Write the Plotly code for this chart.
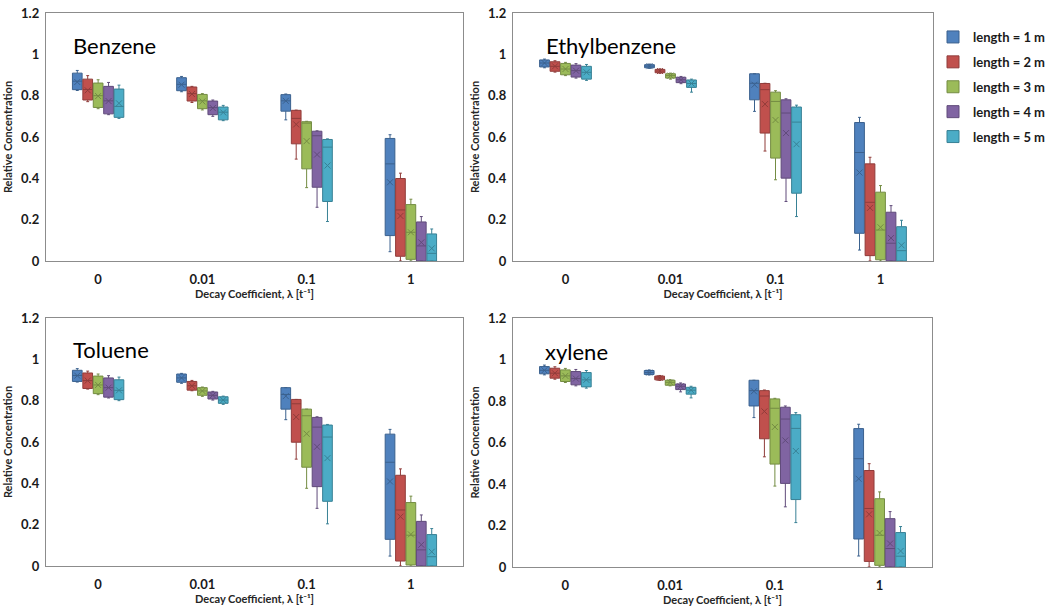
import plotly.graph_objects as go

# ---------------- data ----------------
categories = ["0", "0.01", "0.1", "1"]
series_names = ["length = 1 m", "length = 2 m", "length = 3 m", "length = 4 m", "length = 5 m"]
fill_colors = ["#4F81BD", "#C0504D", "#9BBB59", "#8064A2", "#4BACC6"]
line_colors = ["#3B618E", "#903C3A", "#748C43", "#604B7A", "#388195"]
compounds = ["Benzene", "Ethylbenzene", "Toluene", "xylene"]

# each list: one row per series (1..5 m), values per category (0, 0.01, 0.1, 1)
benzene_lower = [[0.825, 0.819, 0.683, 0.045], [0.771, 0.767, 0.493, 0.0], [0.737, 0.731, 0.355, 0.0],
                 [0.708, 0.700, 0.260, 0.0], [0.690, 0.679, 0.191, 0.0]]
benzene_q1 = [[0.829, 0.824, 0.725, 0.123], [0.779, 0.774, 0.567, 0.023], [0.743, 0.737, 0.446, 0.008],
              [0.712, 0.708, 0.357, 0.0], [0.695, 0.683, 0.288, 0.0]]
benzene_median = [[0.870, 0.855, 0.775, 0.470], [0.830, 0.810, 0.690, 0.247], [0.800, 0.775, 0.667, 0.139],
                  [0.775, 0.742, 0.606, 0.073], [0.748, 0.720, 0.551, 0.037]]
benzene_q3 = [[0.909, 0.887, 0.805, 0.593], [0.880, 0.842, 0.729, 0.399], [0.861, 0.806, 0.674, 0.273],
              [0.845, 0.774, 0.628, 0.189], [0.832, 0.745, 0.588, 0.131]]
benzene_upper = [[0.922, 0.893, 0.808, 0.611], [0.897, 0.845, 0.730, 0.425], [0.877, 0.810, 0.676, 0.299],
                 [0.864, 0.779, 0.630, 0.215], [0.851, 0.753, 0.591, 0.155]]
benzene_mean = [[0.866, 0.853, 0.775, 0.381], [0.826, 0.808, 0.661, 0.218], [0.798, 0.772, 0.580, 0.139],
                [0.774, 0.740, 0.515, 0.090], [0.763, 0.719, 0.462, 0.061]]

ethylbenzene_lower = [[0.935, 0.932, 0.724, 0.053], [0.914, 0.908, 0.532, 0.0], [0.897, 0.880, 0.393, 0.0],
                      [0.885, 0.858, 0.288, 0.0], [0.874, 0.817, 0.215, 0.0]]
ethylbenzene_q1 = [[0.939, 0.935, 0.780, 0.134], [0.918, 0.911, 0.619, 0.026], [0.901, 0.885, 0.498, 0.006],
                   [0.890, 0.863, 0.401, 0.0], [0.880, 0.840, 0.328, 0.0]]
ethylbenzene_median = [[0.958, 0.943, 0.860, 0.525], [0.942, 0.919, 0.829, 0.284], [0.929, 0.897, 0.772, 0.150],
                       [0.921, 0.877, 0.716, 0.086], [0.913, 0.859, 0.672, 0.050]]
ethylbenzene_q3 = [[0.973, 0.950, 0.906, 0.670], [0.964, 0.927, 0.859, 0.470], [0.956, 0.906, 0.817, 0.333],
                   [0.948, 0.889, 0.780, 0.236], [0.942, 0.876, 0.745, 0.166]]
ethylbenzene_upper = [[0.977, 0.953, 0.906, 0.695], [0.969, 0.930, 0.860, 0.502], [0.961, 0.909, 0.824, 0.365],
                      [0.955, 0.893, 0.785, 0.268], [0.951, 0.880, 0.754, 0.197]]
ethylbenzene_mean = [[0.958, 0.943, 0.853, 0.428], [0.942, 0.919, 0.759, 0.257], [0.929, 0.897, 0.682, 0.163],
                     [0.921, 0.877, 0.619, 0.111], [0.913, 0.859, 0.565, 0.076]]

toluene_lower = [[0.890, 0.884, 0.708, 0.048], [0.856, 0.848, 0.517, 0.0], [0.829, 0.821, 0.376, 0.0],
                 [0.813, 0.803, 0.279, 0.0], [0.800, 0.782, 0.204, 0.0]]
toluene_q1 = [[0.893, 0.889, 0.759, 0.129], [0.859, 0.851, 0.599, 0.024], [0.834, 0.826, 0.478, 0.005],
              [0.817, 0.808, 0.384, 0.0], [0.805, 0.787, 0.313, 0.0]]
toluene_median = [[0.922, 0.910, 0.830, 0.502], [0.897, 0.872, 0.785, 0.271], [0.876, 0.847, 0.727, 0.149],
                  [0.863, 0.826, 0.672, 0.078], [0.850, 0.803, 0.624, 0.045]]
toluene_q3 = [[0.947, 0.929, 0.863, 0.638], [0.934, 0.893, 0.806, 0.439], [0.919, 0.863, 0.759, 0.307],
              [0.910, 0.842, 0.719, 0.216], [0.901, 0.819, 0.682, 0.152]]
toluene_upper = [[0.955, 0.932, 0.863, 0.661], [0.943, 0.898, 0.806, 0.470], [0.929, 0.866, 0.759, 0.338],
                 [0.921, 0.845, 0.722, 0.247], [0.914, 0.822, 0.685, 0.181]]
toluene_mean = [[0.921, 0.910, 0.822, 0.409], [0.897, 0.872, 0.721, 0.239], [0.876, 0.847, 0.640, 0.153],
                [0.863, 0.826, 0.577, 0.103], [0.850, 0.803, 0.522, 0.069]]

xylene_lower = [[0.926, 0.925, 0.720, 0.053], [0.905, 0.899, 0.531, 0.0], [0.889, 0.873, 0.390, 0.0],
                [0.873, 0.844, 0.290, 0.0], [0.862, 0.815, 0.214, 0.0]]
xylene_q1 = [[0.931, 0.928, 0.776, 0.135], [0.910, 0.902, 0.618, 0.027], [0.894, 0.876, 0.496, 0.008],
             [0.878, 0.855, 0.403, 0.0], [0.868, 0.833, 0.325, 0.0]]
xylene_median = [[0.948, 0.937, 0.850, 0.522], [0.934, 0.911, 0.824, 0.282], [0.921, 0.890, 0.765, 0.153],
                 [0.908, 0.871, 0.713, 0.089], [0.902, 0.852, 0.668, 0.052]]
xylene_q3 = [[0.966, 0.947, 0.900, 0.667], [0.958, 0.920, 0.850, 0.465], [0.950, 0.900, 0.810, 0.329],
             [0.942, 0.882, 0.770, 0.233], [0.937, 0.866, 0.734, 0.166]]
xylene_upper = [[0.973, 0.950, 0.900, 0.688], [0.965, 0.923, 0.853, 0.498], [0.957, 0.903, 0.813, 0.362],
                [0.952, 0.887, 0.776, 0.267], [0.947, 0.871, 0.744, 0.195]]
xylene_mean = [[0.948, 0.937, 0.847, 0.425], [0.934, 0.911, 0.750, 0.254], [0.921, 0.890, 0.675, 0.164],
               [0.908, 0.871, 0.610, 0.113], [0.902, 0.852, 0.559, 0.077]]

y_tick_vals = [0, 0.2, 0.4, 0.6, 0.8, 1.0, 1.2]
y_tick_text = ["0", "0.2", "0.4", "0.6", "0.8", "1", "1.2"]

# ---------------- figure ----------------
stats = {
    "Benzene": (benzene_lower, benzene_q1, benzene_median, benzene_q3, benzene_upper, benzene_mean),
    "Ethylbenzene": (ethylbenzene_lower, ethylbenzene_q1, ethylbenzene_median, ethylbenzene_q3,
                     ethylbenzene_upper, ethylbenzene_mean),
    "Toluene": (toluene_lower, toluene_q1, toluene_median, toluene_q3, toluene_upper, toluene_mean),
    "xylene": (xylene_lower, xylene_q1, xylene_median, xylene_q3, xylene_upper, xylene_mean),
}

W, H = 1054, 608
# plot areas in pixels: (left, right, top, bottom)
areas = [(46, 463, 13, 261), (513, 933, 13, 261), (46, 463, 318, 566), (513, 932, 318, 567)]
title_pos = [(0.060, 0.867), (0.074, 0.867), (0.060, 0.871), (0.071, 0.867)]

fig = go.Figure()
FONT = "Lato"
axis_title_font = dict(family=FONT, size=11, color="#262626", weight="bold")
tick_font = dict(family=FONT, size=13, color="#1a1a1a", weight="bold")

for p, comp in enumerate(compounds):
    lower, q1, med, q3, upper, mean = stats[comp]
    xa = "x" if p == 0 else f"x{p+1}"
    ya = "y" if p == 0 else f"y{p+1}"
    for s, name in enumerate(series_names):
        fig.add_trace(go.Box(
            x=categories, lowerfence=lower[s], q1=q1[s], median=med[s], q3=q3[s], upperfence=upper[s],
            name=name, legendgroup=name, showlegend=(p == 0),
            fillcolor=fill_colors[s], line=dict(color=line_colors[s], width=1),
            whiskerwidth=0.3, boxpoints=False, xaxis=xa, yaxis=ya,
            offsetgroup=name, alignmentgroup=f"g{p}", hoverinfo="skip",
        ))
        fig.add_trace(go.Scatter(
            x=categories, y=mean[s], mode="markers", orientation="v",
            marker=dict(symbol="x-thin", size=6, color=line_colors[s],
                        line=dict(color=line_colors[s], width=1)),
            legendgroup=name, showlegend=False, xaxis=xa, yaxis=ya,
            offsetgroup=name, alignmentgroup=f"g{p}", hoverinfo="skip",
        ))

    l, r, t, b = areas[p]
    xdom = [l / W, r / W]
    ydom = [1 - b / H, 1 - t / H]
    key = "" if p == 0 else str(p + 1)
    fig.update_layout(**{
        f"xaxis{key}": dict(
            domain=xdom, anchor=ya, type="category", categoryorder="array", categoryarray=categories,
            range=[-0.5, 3.5], showline=True, mirror=True, linecolor="#8c8c8c", linewidth=1.3,
            showgrid=False, zeroline=False, ticks="outside", ticklen=6, tickcolor="rgba(0,0,0,0)",
            tickfont=tick_font, automargin=False,
            title=dict(text="Decay Coefficient, λ [t⁻¹]", font=axis_title_font, standoff=3),
        ),
        f"yaxis{key}": dict(
            domain=ydom, anchor=xa, range=[0, 1.2], tickvals=y_tick_vals, ticktext=y_tick_text,
            showline=True, mirror=True, linecolor="#8c8c8c", linewidth=1.3,
            showgrid=False, zeroline=False, ticks="outside", ticklen=3, tickcolor="rgba(0,0,0,0)",
            tickfont=tick_font, automargin=False,
            title=dict(text="Relative Concentration", font=axis_title_font, standoff=6),
        ),
    })
    tx, ty = title_pos[p]
    fig.add_annotation(
        text=comp, xref=f"{xa} domain", yref=f"{ya} domain", x=tx, y=ty,
        xanchor="left", yanchor="middle", showarrow=False,
        font=dict(family=FONT, size=22, color="#000000"),
    )

fig.update_layout(
    width=W, height=H, margin=dict(l=0, r=0, t=0, b=0, autoexpand=False),
    paper_bgcolor="white", plot_bgcolor="white",
    boxmode="group", boxgap=0.5, boxgroupgap=0.07,
    scattermode="group", scattergap=0.5,
    legend=dict(x=933 / W, y=1 - 22 / H, xanchor="left", yanchor="top",
                font=dict(family=FONT, size=13, color="#1a1a1a", weight="bold"),
                tracegroupgap=5, bgcolor="rgba(0,0,0,0)"),
    showlegend=True,
)

fig.write_html("out.html")
